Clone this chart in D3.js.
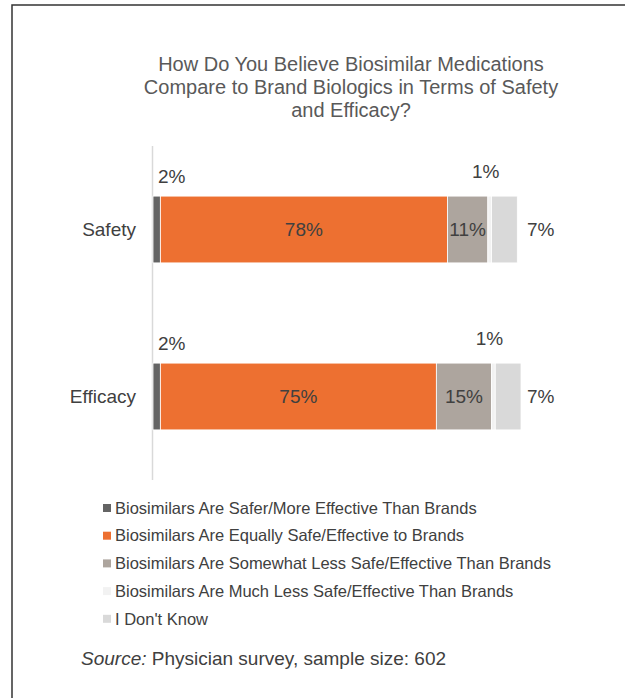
<!DOCTYPE html>
<html>
<head>
<meta charset="utf-8">
<script src="https://cdn.jsdelivr.net/npm/d3@7"></script>
<style>
  html, body { margin: 0; padding: 0; background: #fff; }
  svg { display: block; font-family: "Liberation Sans", Arial, sans-serif; }
</style>
</head>
<body>
<svg id="chart"></svg>
<script>
const WIDTH = 625;
const HEIGHT = 698;

// --- data ---
const categories = ["Safety", "Efficacy"];
const seriesNames = [
  "Biosimilars Are Safer/More Effective Than Brands",
  "Biosimilars Are Equally Safe/Effective to Brands",
  "Biosimilars Are Somewhat Less Safe/Effective Than Brands",
  "Biosimilars Are Much Less Safe/Effective Than Brands",
  "I Don't Know"
];
const saferValues = [2, 2];
const equallyValues = [78, 75];
const somewhatLessValues = [11, 15];
const muchLessValues = [1, 1];
const dontKnowValues = [7, 7];

const titleLines = [
  "How Do You Believe Biosimilar Medications",
  "Compare to Brand Biologics in Terms of Safety",
  "and Efficacy?"
];

const colors = ["#646464", "#ED7031", "#ADA59E", "#F2F2F2", "#D9D9D9"];
const textColor = "#404040";

// build the table for d3.stack
const seriesValues = [saferValues, equallyValues, somewhatLessValues, muchLessValues, dontKnowValues];
const table = categories.map((c, i) => {
  const row = { category: c };
  seriesNames.forEach((s, j) => { row[s] = seriesValues[j][i]; });
  return row;
});

const svg = d3.select("#chart")
  .attr("width", WIDTH)
  .attr("height", HEIGHT);

// outer frame (left + top visible in the crop)
svg.append("rect")
  .attr("x", 12)
  .attr("y", 5)
  .attr("width", 800)
  .attr("height", 900)
  .attr("fill", "none")
  .attr("stroke", "#333")
  .attr("stroke-width", 1.5);

// title
svg.append("text")
  .attr("x", 351)
  .attr("y", 71)
  .attr("text-anchor", "middle")
  .attr("font-size", "20px")
  .attr("fill", "#595959")
  .selectAll("tspan")
  .data(titleLines)
  .join("tspan")
  .attr("x", 351)
  .attr("dy", (d, i) => i === 0 ? 0 : 23)
  .text(d => d);

// scales
const x = d3.scaleLinear().domain([0, 100]).range([153, 521]);
const y = d3.scaleBand()
  .domain(categories)
  .range([146, 480])
  .paddingInner(0.6)
  .paddingOuter(0.3);

const stacked = d3.stack().keys(seriesNames)(table);

// axis line
svg.append("line")
  .attr("x1", 152.5).attr("x2", 152.5)
  .attr("y1", 146).attr("y2", 480)
  .attr("stroke", "#D9D9D9")
  .attr("stroke-width", 1.5);

// category labels
svg.append("g")
  .selectAll("text")
  .data(categories)
  .join("text")
  .attr("x", 136)
  .attr("y", d => y(d) + y.bandwidth() / 2)
  .attr("dy", "0.35em")
  .attr("text-anchor", "end")
  .attr("font-size", "19px")
  .attr("fill", textColor)
  .text(d => d);

// bars
const layers = svg.append("g")
  .selectAll("g")
  .data(stacked)
  .join("g")
  .attr("fill", (d, i) => colors[i]);

layers.selectAll("rect")
  .data(d => d)
  .join("rect")
  .attr("x", d => x(d[0]))
  .attr("y", d => y(d.data.category))
  .attr("width", d => x(d[1]) - x(d[0]))
  .attr("height", y.bandwidth())
  .attr("stroke", "#fff")
  .attr("stroke-width", 0.8);

// value labels
const labels = svg.append("g")
  .attr("font-size", "19px")
  .attr("fill", textColor);

stacked.forEach((layer, i) => {
  layer.forEach(d => {
    const top = y(d.data.category);
    const mid = top + y.bandwidth() / 2;
    const val = d[1] - d[0];
    let lx, ly, anchor = "middle";
    if (i === 0) {          // tiny first segment: label above, left aligned
      lx = x(d[0]) + 5; ly = top - 13; anchor = "start";
    } else if (i === 3) {   // tiny 1% segment: label above
      lx = (x(d[0]) + x(d[1])) / 2 - 4; ly = top - 18;
    } else if (i === 4) {   // last segment: label to the right
      lx = x(100) + 6; ly = mid + 6.5; anchor = "start";
    } else {
      lx = (x(d[0]) + x(d[1])) / 2; ly = mid + 6.5;
    }
    labels.append("text")
      .attr("x", lx)
      .attr("y", ly)
      .attr("text-anchor", anchor)
      .text(val + "%");
  });
});

// legend
const legend = svg.append("g")
  .attr("font-size", "16.5px")
  .attr("fill", textColor);

const item = legend.selectAll("g")
  .data(seriesNames)
  .join("g")
  .attr("transform", (d, i) => `translate(103, ${508 + i * 27.7})`);

item.append("rect")
  .attr("x", 0)
  .attr("y", -4)
  .attr("width", 8)
  .attr("height", 8)
  .attr("fill", (d, i) => colors[i]);

item.append("text")
  .attr("x", 12)
  .attr("dy", "0.35em")
  .text(d => d);

// source note
const source = svg.append("text")
  .attr("x", 81)
  .attr("y", 665)
  .attr("font-size", "19px")
  .attr("fill", textColor);
source.append("tspan").attr("font-style", "italic").text("Source:");
source.append("tspan").text(" Physician survey, sample size: 602");
</script>
</body>
</html>
